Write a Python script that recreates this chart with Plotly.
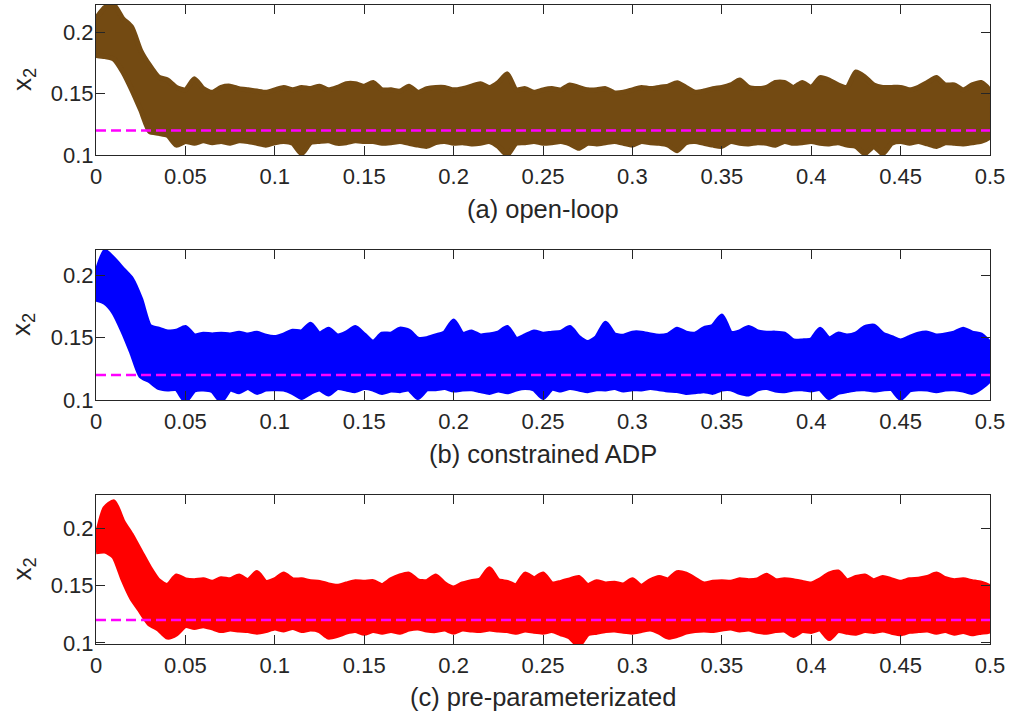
import plotly.graph_objects as go

# time grid (s)
t = [round(i * 0.005, 3) for i in range(101)]

# ---- panel (a) open-loop: upper / lower envelope of the trajectory band ----
a_upper = [0.211, 0.220, 0.222, 0.211, 0.204, 0.185, 0.173, 0.1635, 0.161, 0.155,
           0.153, 0.162, 0.154, 0.151, 0.155, 0.156, 0.154, 0.153, 0.152, 0.151,
           0.153, 0.155, 0.153, 0.155, 0.154, 0.156, 0.153, 0.155, 0.158, 0.158,
           0.156, 0.159, 0.153, 0.153, 0.152, 0.156, 0.151, 0.154, 0.155, 0.155,
           0.153, 0.154, 0.156, 0.158, 0.155, 0.159, 0.166, 0.153, 0.154, 0.151,
           0.153, 0.154, 0.153, 0.157, 0.155, 0.153, 0.153, 0.154, 0.1505, 0.151,
           0.153, 0.155, 0.154, 0.155, 0.156, 0.1587, 0.155, 0.151, 0.152, 0.154,
           0.155, 0.157, 0.161, 0.155, 0.154, 0.155, 0.159, 0.159, 0.155, 0.159,
           0.155, 0.163, 0.161, 0.157, 0.155, 0.1676, 0.1635, 0.157, 0.155, 0.155,
           0.155, 0.153, 0.155, 0.159, 0.163, 0.157, 0.157, 0.153, 0.157, 0.159,
           0.152]
a_lower = [0.181, 0.180, 0.178, 0.1676, 0.153, 0.1365, 0.119, 0.1176, 0.116, 0.108,
           0.111, 0.1095, 0.1116, 0.110, 0.111, 0.1095, 0.1116, 0.111, 0.1095, 0.108,
           0.110, 0.111, 0.1095, 0.101, 0.110, 0.111, 0.1116, 0.1095, 0.110, 0.1116,
           0.111, 0.111, 0.1095, 0.110, 0.111, 0.1095, 0.108, 0.107, 0.110, 0.111,
           0.1095, 0.110, 0.109, 0.1095, 0.111, 0.107, 0.100, 0.1095, 0.110, 0.111,
           0.1095, 0.110, 0.111, 0.109, 0.1054, 0.1095, 0.109, 0.110, 0.111, 0.1095,
           0.108, 0.111, 0.110, 0.1095, 0.108, 0.1035, 0.110, 0.111, 0.1095, 0.108,
           0.107, 0.111, 0.1095, 0.109, 0.110, 0.1095, 0.108, 0.111, 0.1095, 0.110,
           0.111, 0.1095, 0.109, 0.110, 0.108, 0.107, 0.101, 0.107, 0.101, 0.1095,
           0.111, 0.1095, 0.111, 0.109, 0.107, 0.110, 0.1095, 0.109, 0.110, 0.111,
           0.115]

# ---- panel (b) constrained ADP ----
b_upper = [0.200, 0.219, 0.2125, 0.2045, 0.1966, 0.1806, 0.159, 0.1567, 0.1545, 0.155,
           0.158, 0.1513, 0.1527, 0.152, 0.1527, 0.152, 0.1535, 0.152, 0.1535, 0.151,
           0.150, 0.152, 0.155, 0.1545, 0.1606, 0.1527, 0.1567, 0.1513, 0.1535, 0.158,
           0.152, 0.146, 0.1527, 0.1527, 0.1567, 0.155, 0.1487, 0.149, 0.1513, 0.1535,
           0.1633, 0.1527, 0.1545, 0.1513, 0.152, 0.1535, 0.158, 0.1487, 0.1513, 0.1545,
           0.1527, 0.1535, 0.154, 0.158, 0.150, 0.146, 0.150, 0.1615, 0.152, 0.151,
           0.1535, 0.1535, 0.152, 0.151, 0.152, 0.1567, 0.1535, 0.1527, 0.157, 0.159,
           0.1673, 0.1535, 0.1545, 0.158, 0.1545, 0.1535, 0.1535, 0.1527, 0.1473, 0.1473,
           0.148, 0.1567, 0.1487, 0.1527, 0.1513, 0.1527, 0.158, 0.159, 0.1527, 0.150,
           0.1473, 0.150, 0.1527, 0.1535, 0.1513, 0.152, 0.1535, 0.1567, 0.1535, 0.152,
           0.1447]
b_lower = [0.1806, 0.178, 0.170, 0.1553, 0.138, 0.1194, 0.1154, 0.110, 0.1088, 0.109,
           0.0995, 0.108, 0.1088, 0.1075, 0.0995, 0.1088, 0.1066, 0.110, 0.1061, 0.1088,
           0.109, 0.1088, 0.1061, 0.102, 0.1061, 0.1088, 0.1048, 0.110, 0.1088, 0.1075,
           0.110, 0.1088, 0.1061, 0.108, 0.1075, 0.1088, 0.102, 0.1088, 0.109, 0.110,
           0.108, 0.1088, 0.109, 0.1075, 0.1061, 0.108, 0.1066, 0.1088, 0.110, 0.1088,
           0.102, 0.1093, 0.108, 0.110, 0.1088, 0.1075, 0.109, 0.1088, 0.110, 0.108,
           0.109, 0.1088, 0.110, 0.109, 0.108, 0.1075, 0.1061, 0.1066, 0.1075, 0.1061,
           0.1088, 0.109, 0.1061, 0.1048, 0.1088, 0.110, 0.108, 0.1075, 0.1088, 0.109,
           0.108, 0.109, 0.102, 0.1061, 0.1075, 0.1088, 0.109, 0.108, 0.1088, 0.109,
           0.1013, 0.108, 0.109, 0.1088, 0.1075, 0.1088, 0.109, 0.108, 0.1061, 0.110,
           0.1168]

# ---- panel (c) pre-parameterizated ----
c_upper = [0.190, 0.2175, 0.223, 0.206, 0.1936, 0.1795, 0.1655, 0.1542, 0.150, 0.1584,
           0.155, 0.1542, 0.155, 0.1528, 0.156, 0.155, 0.1584, 0.1542, 0.1613, 0.1528,
           0.155, 0.160, 0.155, 0.155, 0.1534, 0.1528, 0.1506, 0.1494, 0.1514, 0.1534,
           0.1528, 0.1534, 0.150, 0.155, 0.1584, 0.160, 0.1542, 0.1534, 0.1584, 0.1514,
           0.1478, 0.1514, 0.1534, 0.155, 0.1646, 0.1542, 0.1528, 0.150, 0.160, 0.156,
           0.160, 0.1514, 0.1528, 0.155, 0.157, 0.150, 0.1534, 0.1514, 0.152, 0.1506,
           0.155, 0.1494, 0.1542, 0.157, 0.155, 0.1613, 0.160, 0.1556, 0.1514, 0.1528,
           0.1534, 0.1528, 0.155, 0.1542, 0.155, 0.159, 0.1542, 0.155, 0.1542, 0.1528,
           0.1514, 0.155, 0.160, 0.1618, 0.1542, 0.157, 0.1584, 0.1542, 0.157, 0.155,
           0.1528, 0.155, 0.1556, 0.157, 0.160, 0.156, 0.1542, 0.155, 0.1534, 0.152,
           0.1486]
c_lower = [0.1795, 0.180, 0.1753, 0.1556, 0.1388, 0.1275, 0.1163, 0.112, 0.105, 0.1079,
           0.115, 0.1135, 0.115, 0.113, 0.1107, 0.112, 0.1112, 0.1107, 0.1093, 0.1107,
           0.113, 0.1112, 0.1135, 0.1107, 0.112, 0.1107, 0.105, 0.1065, 0.1093, 0.1107,
           0.1084, 0.1107, 0.1093, 0.1107, 0.1093, 0.112, 0.113, 0.1112, 0.1107, 0.112,
           0.1093, 0.112, 0.1112, 0.1107, 0.112, 0.1112, 0.1107, 0.1093, 0.1112, 0.110,
           0.1093, 0.1107, 0.1079, 0.105, 0.098, 0.1079, 0.1093, 0.1107, 0.1112, 0.110,
           0.1093, 0.1107, 0.112, 0.1093, 0.105, 0.1065, 0.1093, 0.1107, 0.1112, 0.1107,
           0.112, 0.113, 0.1112, 0.112, 0.110, 0.1093, 0.1107, 0.1112, 0.1065, 0.1107,
           0.110, 0.112, 0.1037, 0.1107, 0.1093, 0.1084, 0.1107, 0.110, 0.1112, 0.1093,
           0.1079, 0.110, 0.1107, 0.1112, 0.1093, 0.1107, 0.1084, 0.110, 0.1079, 0.1093,
           0.1107]

ref_t = [0.0, 0.5]
ref_level = [0.12, 0.12]

x_ticks = [0, 0.05, 0.1, 0.15, 0.2, 0.25, 0.3, 0.35, 0.4, 0.45, 0.5]
x_ticklabels = ["0", "0.05", "0.1", "0.15", "0.2", "0.25", "0.3", "0.35", "0.4", "0.45", "0.5"]
y_ticks = [0.1, 0.15, 0.2]
y_ticklabels = ["0.1", "0.15", "0.2"]

panel_titles = ["(a) open-loop", "(b) constrained ADP", "(c) pre-parameterizated"]
panel_colors = ["#734A12", "#0000FF", "#FF0000"]
panel_bands = [(a_upper, a_lower), (b_upper, b_lower), (c_upper, c_lower)]
panel_yranges = [[0.1, 0.222], [0.1, 0.22], [0.099, 0.229]]

for u, l in panel_bands:
    assert len(u) == len(t) and len(l) == len(t), (len(u), len(l))

W, H = 1010, 714
# pixel geometry of the three axes boxes (top, bottom)
boxes = [(5, 155), (250, 400), (495, 644)]
xl, xr = 96, 990
title_y = [209, 454, 697]


def px(x):
    return x / W


def py(y):
    return 1 - y / H


fig = go.Figure()
axcol = "#262626"
FONT = "Liberation Sans, Arial, Helvetica, sans-serif"

for i, ((up, lo), col, yr) in enumerate(zip(panel_bands, panel_colors, panel_yranges)):
    n = "" if i == 0 else str(i + 1)
    xa, ya = "x" + n, "y" + n
    fig.add_trace(go.Scatter(
        x=t + t[::-1], y=up + lo[::-1], mode="lines", fill="toself",
        fillcolor=col, line=dict(color=col, width=5, shape="spline", smoothing=0.6),
        xaxis=xa, yaxis=ya, showlegend=False, hoverinfo="skip"))
    fig.add_trace(go.Scatter(
        x=ref_t, y=ref_level, mode="lines",
        line=dict(color="#FF00FF", width=2.5, dash="10px,5px"),
        xaxis=xa, yaxis=ya, showlegend=False, hoverinfo="skip"))
    top, bot = boxes[i]
    common = dict(showline=True, linecolor=axcol, linewidth=1, mirror="ticks",
                  ticks="inside", ticklen=9, tickcolor=axcol, tickwidth=1,
                  showgrid=False, zeroline=False, automargin=False,
                  tickfont=dict(family=FONT, size=22, color=axcol))
    fig.update_layout(**{
        ("xaxis" + n): dict(domain=[px(xl), px(xr)], range=[0, 0.5], anchor=ya,
                             tickvals=x_ticks, ticktext=x_ticklabels,
                             ticklabelstandoff=2, **common),
        ("yaxis" + n): dict(domain=[py(bot), py(top)], range=yr, anchor=xa,
                             tickvals=y_ticks, ticktext=y_ticklabels,
                             ticklabelstandoff=-3, **common),
    })
    fig.add_annotation(text=panel_titles[i], xref="paper", yref="paper",
                       x=px((xl + xr) / 2), y=py(title_y[i]),
                       xanchor="center", yanchor="middle", showarrow=False,
                       font=dict(family=FONT, size=25.5, color=axcol))
    fig.add_annotation(text="x<sub>2</sub>", xref="paper", yref="paper",
                       x=px(23), y=py((top + bot) / 2), textangle=-90,
                       xanchor="center", yanchor="middle", showarrow=False,
                       font=dict(family=FONT, size=26, color=axcol))

fig.update_layout(width=W, height=H, margin=dict(l=0, r=0, t=0, b=0),
                  plot_bgcolor="white", paper_bgcolor="white")
# remove the default 8px page margin so the figure fills the window exactly
fig.write_html("out.html", config={"displayModeBar": False},
               post_script="document.body.style.margin='0';document.body.style.overflow='hidden';")
